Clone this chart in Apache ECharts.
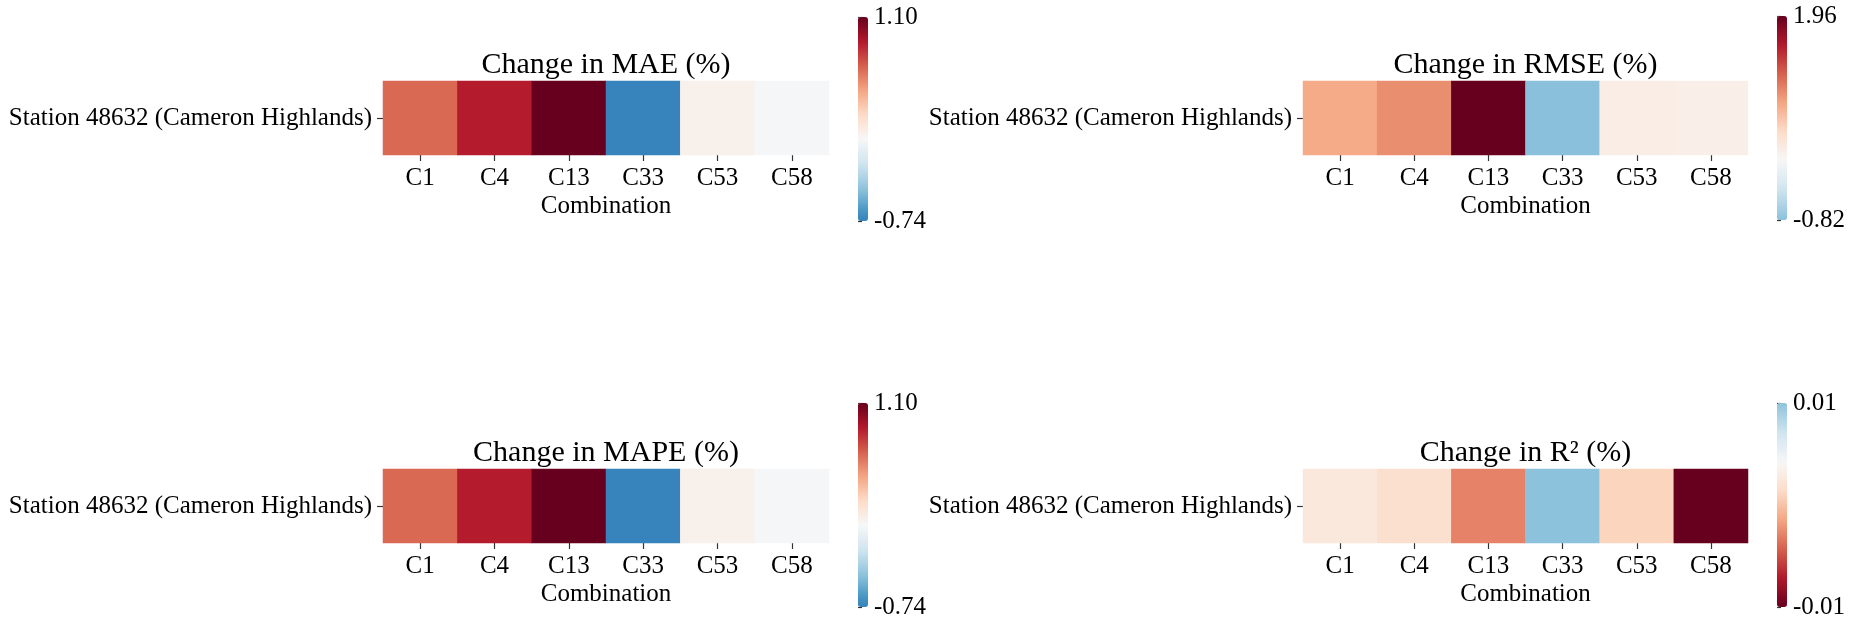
<!DOCTYPE html>
<html>
<head>
<meta charset="utf-8">
<title>Change heatmaps</title>
<script src="https://cdn.jsdelivr.net/npm/echarts@6/dist/echarts.min.js"></script>
<style>
html, body { margin: 0; padding: 0; background: #fff; }
#chart { width: 1865px; height: 627px; }
</style>
</head>
<body>
<div id="chart"></div>
<script>
// data
var combos = ['C1', 'C4', 'C13', 'C33', 'C53', 'C58'];
var stations = ['Station 48632 (Cameron Highlands)'];
var maeChange = [0.63, 0.87, 1.10, -0.74, 0.06, -0.01];
var rmseChange = [0.75, 0.92, 1.96, -0.82, 0.14, 0.12];
var mapeChange = [0.63, 0.87, 1.10, -0.74, 0.06, -0.01];
var r2Change = [-0.00134, -0.00205, -0.00627, 0.00516, -0.00278, -0.0125];
var titles = ['Change in MAE (%)', 'Change in RMSE (%)', 'Change in MAPE (%)', 'Change in R\u00b2 (%)'];

var FONT = '"Liberation Serif", "Times New Roman", serif';

// matplotlib RdBu stops
var rdbu = ['#67001f', '#b2182b', '#d6604d', '#f4a582', '#fddbc7', '#f7f7f7',
            '#d1e5f0', '#92c5de', '#4393c3', '#2166ac', '#053061'];

function hex(c) {
    return [parseInt(c.substr(1, 2), 16), parseInt(c.substr(3, 2), 16), parseInt(c.substr(5, 2), 16)];
}
function rdbuAt(t) {
    t = Math.max(0, Math.min(1, t));
    var p = t * 10, i = Math.min(9, Math.floor(p)), f = p - i;
    var a = hex(rdbu[i]), b = hex(rdbu[i + 1]);
    var r = [0, 1, 2].map(function (k) { return Math.round(a[k] + (b[k] - a[k]) * f); });
    return 'rgb(' + r.join(',') + ')';
}
// seaborn style: colormap centred on 0, bar shows only min..max
function barColors(min, max, reversed) {
    var m = Math.max(Math.abs(min), Math.abs(max));
    var out = [];
    for (var i = 0; i <= 40; i++) {
        var v = min + (max - min) * i / 40;
        var n = (v + m) / (2 * m);
        out.push(rdbuAt(reversed ? 1 - n : n));
    }
    return out;
}

var panels = [
    { values: maeChange, left: 383, top: 81, width: 446, cbLeft: 858, cbTop: 17, rev: true },
    { values: rmseChange, left: 1303, top: 81, width: 445, cbLeft: 1777, cbTop: 16, rev: true },
    { values: mapeChange, left: 383, top: 469, width: 446, cbLeft: 858, cbTop: 403, rev: true },
    { values: r2Change, left: 1303, top: 469, width: 445, cbLeft: 1777, cbTop: 403, rev: false }
];

var labelStyle = { fontFamily: FONT, fontSize: 25, color: '#000' };
var tickStyle = { color: '#333', width: 1.2 };

var grid = [], xAxis = [], yAxis = [], series = [], visualMap = [], title = [];

panels.forEach(function (p, i) {
    grid.push({ left: p.left, top: p.top, width: p.width, height: 74 });
    xAxis.push({
        type: 'category', gridIndex: i, data: combos,
        axisLine: { show: false },
        axisTick: { show: true, alignWithLabel: true, length: 6, lineStyle: tickStyle },
        axisLabel: Object.assign({ margin: 11 }, labelStyle),
        splitLine: { show: false },
        name: 'Combination', nameLocation: 'middle', nameGap: 39,
        nameTextStyle: labelStyle
    });
    yAxis.push({
        type: 'category', gridIndex: i, data: stations,
        axisLine: { show: false },
        axisTick: { show: true, alignWithLabel: true, length: 6, lineStyle: tickStyle },
        axisLabel: Object.assign({ margin: 11 }, labelStyle),
        splitLine: { show: false }
    });
    series.push({
        type: 'heatmap', xAxisIndex: i, yAxisIndex: i,
        data: p.values.map(function (v, j) { return [j, 0, v]; }),
        itemStyle: { borderWidth: 0 },
        emphasis: { disabled: true }
    });
    title.push({
        text: titles[i], left: p.left + p.width / 2, top: p.top - 31, textAlign: 'center', padding: 0,
        textStyle: { fontFamily: FONT, fontSize: 30, fontWeight: 'normal', color: '#000' }
    });
});

// colour bars: gradient from visualMap, end labels from a value axis laid over it
panels.forEach(function (p, i) {
    var min = Math.min.apply(null, p.values), max = Math.max.apply(null, p.values);
    var gi = panels.length + i;
    grid.push({ left: p.cbLeft, top: p.cbTop, width: 10, height: 204 });
    xAxis.push({ type: 'value', gridIndex: gi, show: false, min: 0, max: 1 });
    yAxis.push({
        type: 'value', gridIndex: gi, position: 'right', min: min, max: max,
        axisLine: { show: false },
        splitLine: { show: false },
        axisTick: { show: true, length: 4, customValues: [min, max], lineStyle: tickStyle },
        axisLabel: Object.assign({
            margin: 6, customValues: [min, max],
            formatter: function (v) { return v.toFixed(2); }
        }, labelStyle)
    });
    visualMap.push({
        type: 'continuous', seriesIndex: i, min: min, max: max,
        calculable: false, show: true, orient: 'vertical',
        left: p.cbLeft, top: p.cbTop, itemWidth: 10, itemHeight: 204, padding: 0,
        inRange: { color: barColors(min, max, p.rev) }
    });
});

var myChart = echarts.init(document.getElementById('chart'));
myChart.setOption({
    backgroundColor: '#fff',
    animation: false,
    title: title,
    grid: grid,
    xAxis: xAxis,
    yAxis: yAxis,
    visualMap: visualMap,
    series: series
});
</script>
</body>
</html>
